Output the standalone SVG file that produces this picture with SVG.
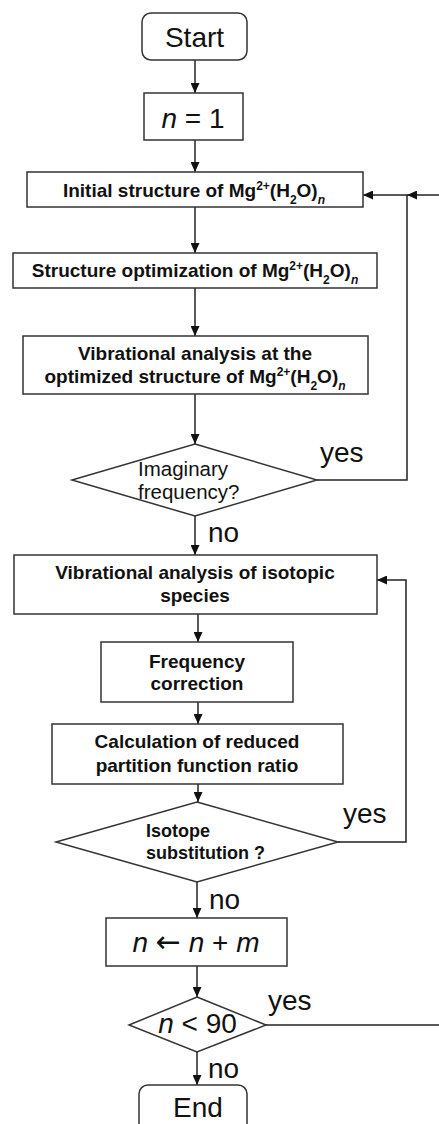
<svg xmlns="http://www.w3.org/2000/svg" width="439" height="1124" viewBox="0 0 439 1124">
<style>
.box{fill:#fff;stroke:#333;stroke-width:1.5}
.ln{fill:none;stroke:#222;stroke-width:1.5}
.bt{font-family:"Liberation Sans",Arial,sans-serif;font-size:19px;font-weight:bold;fill:#111;text-anchor:middle}
.bl{font-family:"Liberation Sans",Arial,sans-serif;font-size:18px;font-weight:bold;fill:#111;text-anchor:start}
.big{font-family:"Liberation Sans",Arial,sans-serif;font-size:28px;fill:#111}
.mid{text-anchor:middle}
.dt{font-family:"Liberation Sans",Arial,sans-serif;font-size:20.5px;fill:#111}
.sub{font-size:12px}
.arr{font-family:"DejaVu Sans",sans-serif;font-size:30px;font-style:normal}
</style>
<defs>
<marker id="ah" markerUnits="userSpaceOnUse" markerWidth="10" markerHeight="9" refX="10" refY="4.5" orient="auto">
<path d="M0,0 L10,4.5 L0,9 z" fill="#111"/>
</marker>
</defs>
<rect width="439" height="1124" fill="#fff"/>
<g id="connectors">
<path class="ln" d="M195,60 V93" marker-end="url(#ah)"/>
<path class="ln" d="M195,140 V172" marker-end="url(#ah)"/>
<path class="ln" d="M195,207 V253" marker-end="url(#ah)"/>
<path class="ln" d="M195,288 V336" marker-end="url(#ah)"/>
<path class="ln" d="M195,394 V444" marker-end="url(#ah)"/>
<path class="ln" d="M317,480 H407 V195"/>
<path class="ln" d="M439,195 H407" marker-end="url(#ah)"/>
<path class="ln" d="M407,195 H363" marker-end="url(#ah)"/>
<path class="ln" d="M195,516 V555" marker-end="url(#ah)"/>
<path class="ln" d="M198,614 V642" marker-end="url(#ah)"/>
<path class="ln" d="M198,702 V724" marker-end="url(#ah)"/>
<path class="ln" d="M198,784 V802" marker-end="url(#ah)"/>
<path class="ln" d="M338,842 H406 V580 H377" marker-end="url(#ah)"/>
<path class="ln" d="M197,882 V918" marker-end="url(#ah)"/>
<path class="ln" d="M197,966 V997" marker-end="url(#ah)"/>
<path class="ln" d="M266,1025 H439"/>
<path class="ln" d="M197,1052 V1085" marker-end="url(#ah)"/>
<text class="big" x="320" y="462">yes</text>
<text class="big" x="208" y="542">no</text>
<text class="big" x="343" y="823">yes</text>
<text class="big" x="209" y="909">no</text>
<text class="big" x="268" y="1010">yes</text>
<text class="big" x="208" y="1078">no</text>
</g>
<g id="start">
<rect class="box" x="142" y="13" width="105" height="47" rx="9"/>
<text class="big mid" x="194.5" y="47">Start</text>
</g>
<g id="n1">
<rect class="box" x="144" y="93" width="99" height="47"/>
<text class="big mid" x="193" y="128"><tspan font-style="italic">n</tspan> = 1</text>
</g>
<g id="initial">
<rect class="box" x="27" y="172" width="336" height="35"/>
<text class="bt" x="194" y="197">Initial structure of Mg<tspan class="sub" baseline-shift="super">2+</tspan>(H<tspan class="sub" baseline-shift="sub">2</tspan>O)<tspan class="sub" baseline-shift="sub" font-style="italic">n</tspan></text>
</g>
<g id="optimize">
<rect class="box" x="13" y="253" width="364" height="35"/>
<text class="bt" x="195" y="277">Structure optimization of Mg<tspan class="sub" baseline-shift="super">2+</tspan>(H<tspan class="sub" baseline-shift="sub">2</tspan>O)<tspan class="sub" baseline-shift="sub" font-style="italic">n</tspan></text>
</g>
<g id="vib1">
<rect class="box" x="23" y="336" width="345" height="58"/>
<text class="bt" x="195" y="360">Vibrational analysis at the</text>
<text class="bt" x="195" y="383">optimized structure of Mg<tspan class="sub" baseline-shift="super">2+</tspan>(H<tspan class="sub" baseline-shift="sub">2</tspan>O)<tspan class="sub" baseline-shift="sub" font-style="italic">n</tspan></text>
</g>
<g id="imag">
<polygon class="box" points="195,444 317,480 195,516 72,480"/>
<text class="dt" x="138" y="476">Imaginary</text>
<text class="dt" x="138" y="499">frequency?</text>
</g>
<g id="vib2">
<rect class="box" x="14" y="555" width="363" height="59"/>
<text class="bt" x="195" y="579">Vibrational analysis of isotopic</text>
<text class="bt" x="195" y="602">species</text>
</g>
<g id="freq">
<rect class="box" x="101" y="642" width="192" height="60"/>
<text class="bt" x="197" y="668">Frequency</text>
<text class="bt" x="197" y="690">correction</text>
</g>
<g id="calc">
<rect class="box" x="52" y="724" width="291" height="60"/>
<text class="bt" x="197" y="748">Calculation of reduced</text>
<text class="bt" x="197" y="772">partition function ratio</text>
</g>
<g id="isotope">
<polygon class="box" points="197,802 338,842 197,882 56,842"/>
<text class="bl" x="146" y="837">Isotope</text>
<text class="bl" x="146" y="859">substitution ?</text>
</g>
<g id="incr">
<rect class="box" x="106" y="918" width="181" height="48"/>
<text class="big mid" x="196" y="952"><tspan font-style="italic">n</tspan> <tspan class="arr">←</tspan> <tspan font-style="italic">n</tspan> + <tspan font-style="italic">m</tspan></text>
</g>
<g id="lt90">
<polygon class="box" points="197,997 266,1025 197,1052 129,1025"/>
<text class="big mid" x="197.5" y="1033"><tspan font-style="italic">n</tspan> &lt; 90</text>
</g>
<g id="end">
<rect class="box" x="139" y="1085" width="108" height="60" rx="9"/>
<text class="big mid" x="198" y="1117">End</text>
</g>
</svg>
